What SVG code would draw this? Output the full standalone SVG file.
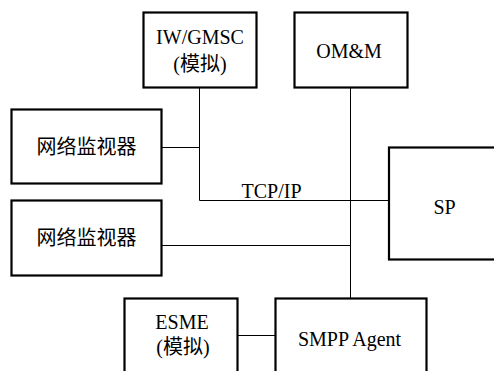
<svg xmlns="http://www.w3.org/2000/svg" width="494" height="371" viewBox="0 0 494 371">
<style>
.box{fill:#fff;stroke:#000;stroke-width:2.2}
.ln{fill:none;stroke:#000;stroke-width:1}
.t{font-family:"Liberation Serif","Times New Roman",serif;font-size:20px;fill:#000;text-anchor:middle}
.c{font-family:"Noto Sans CJK SC",sans-serif;font-size:20px;fill:#000;text-anchor:middle}
.cj{font-family:"Noto Sans CJK SC",sans-serif}
</style>
<rect width="494" height="371" fill="#fff"/>
<g id="connectors">
<path class="ln" d="M199.5 88V200.5H389"/>
<path class="ln" d="M162 147.5H199.5"/>
<path class="ln" d="M350.5 88V298"/>
<path class="ln" d="M162 245.5H350.5"/>
<path class="ln" d="M238 335.5H275"/>
</g>
<g id="iwgmsc"><rect class="box" x="143.5" y="12.5" width="113" height="75"/>
<text class="t" x="200" y="44">IW/GMSC</text>
<text class="t" x="200" y="70.5">(<tspan class="cj">模拟</tspan>)</text></g>
<g id="omm"><rect class="box" x="294.5" y="12.5" width="113" height="75"/>
<text class="t" x="349" y="57.5">OM&amp;M</text></g>
<g id="monitor1"><rect class="box" x="11.5" y="109.5" width="150" height="74"/>
<text class="c" x="86.5" y="154">网络监视器</text></g>
<g id="tcpip"><text class="t" x="271.5" y="197.5">TCP/IP</text></g>
<g id="sp"><rect class="box" x="389" y="147.5" width="120" height="112"/>
<text class="t" x="444.5" y="214">SP</text></g>
<g id="monitor2"><rect class="box" x="11.5" y="200.5" width="150" height="75"/>
<text class="c" x="86.5" y="245">网络监视器</text></g>
<g id="esme"><rect class="box" x="124.5" y="298.5" width="113" height="80"/>
<text class="t" x="182" y="329">ESME</text>
<text class="t" x="183" y="353.5">(<tspan class="cj">模拟</tspan>)</text></g>
<g id="smpp"><rect class="box" x="275.5" y="298.5" width="151" height="80"/>
<text class="t" x="349.5" y="346">SMPP Agent</text></g>
</svg>
